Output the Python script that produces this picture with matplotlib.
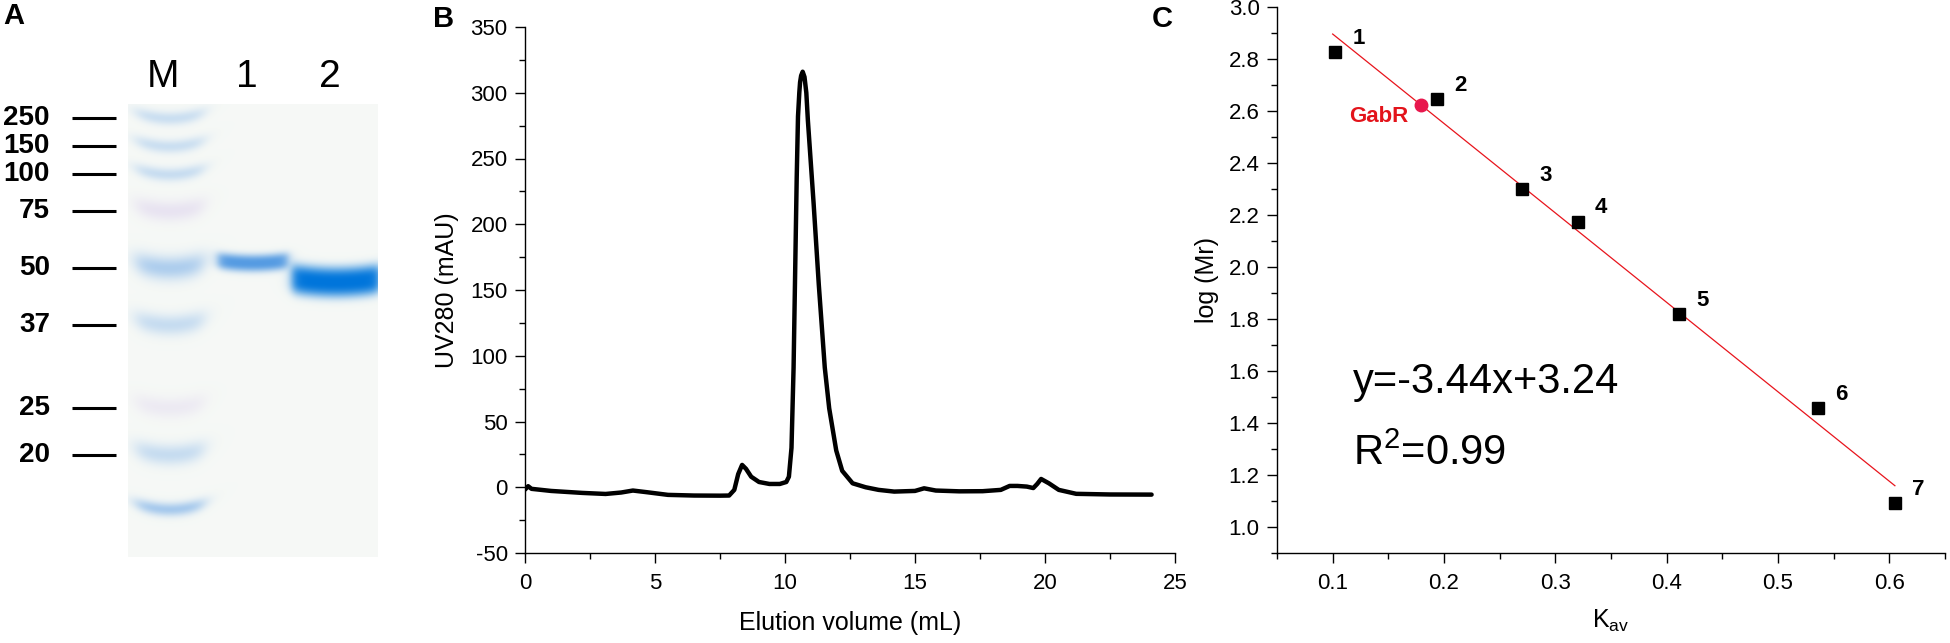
import numpy as np
import matplotlib
matplotlib.use("Agg")
import matplotlib.pyplot as plt
from matplotlib.ticker import MultipleLocator, FormatStrFormatter

plt.rcParams['font.family'] = ['Liberation Sans', 'DejaVu Sans']
plt.rcParams['axes.unicode_minus'] = False
plt.rcParams['mathtext.default'] = 'regular'

# --- A: SDS-PAGE gel ---
lanes = ['M', '1', '2']
marker_kda = [250, 150, 100, 75, 50, 37, 25, 20, 15]
marker_run = [3.1, 9.3, 15.5, 23.6, 36.2, 48.8, 67.1, 77.5, 89.6]  # % of gel length
marker_strength = [0.30, 0.30, 0.32, 0.22, 0.50, 0.33, 0.15, 0.33, 0.55]
marker_labels = ['250', '150', '100', '75', '50', '37', '25', '20']
sample_run = [35.1, 39.3]
sample_strength = [0.8, 1.0]

# --- B: gel filtration trace ---
volume = [0.0, 0.12, 0.25, 1.0, 2.2, 3.1, 3.7, 4.15, 4.7, 5.5, 6.5, 7.5, 7.85, 8.05,
          8.2, 8.35, 8.5, 8.7, 9.0, 9.4, 9.8, 10.05, 10.15, 10.25, 10.33, 10.40, 10.45,
          10.50, 10.55, 10.58, 10.62, 10.68, 10.75, 10.82, 10.88, 11.1, 11.3, 11.53,
          11.7, 11.97, 12.2, 12.6, 13.1, 13.6, 14.2, 15.0, 15.35, 15.8, 16.7, 17.6,
          18.3, 18.64, 18.94, 19.3, 19.55, 19.7, 19.85, 20.15, 20.53, 21.2, 22.5, 24.1]
uv280 = [-1.8, 0.8, -1.2, -2.8, -4.3, -5.1, -4.0, -2.5, -3.8, -5.8, -6.3, -6.4, -6.3, -2.0,
         10.0, 17.0, 14.0, 8.0, 4.0, 2.5, 2.5, 4.0, 8.0, 30.0, 91.0, 175.0, 235.0,
         282.0, 300.0, 308.0, 313.0, 316.0, 312.0, 300.0, 279.0, 216.0, 154.0, 91.0,
         60.0, 28.0, 12.5, 3.0, 0.0, -2.0, -3.3, -2.8, -0.8, -2.5, -3.1, -3.0,
         -2.0, 1.0, 1.0, 0.5, -0.6, 2.5, 6.3, 3.0, -2.0, -5.0, -5.5, -5.6]

# --- C: calibration ---
std_names = ['1', '2', '3', '4', '5', '6', '7']
kav = [0.102, 0.194, 0.270, 0.320, 0.411, 0.536, 0.605]
log_mr = [2.827, 2.646, 2.300, 2.175, 1.818, 1.458, 1.092]
gabr_kav = 0.179
gabr_log_mr = 2.625
fit_slope = -3.44
fit_icpt = 3.24
fit_kav = [0.1, 0.605]

W, H = 1950, 643
fig = plt.figure(figsize=(W / 100, H / 100), dpi=100)

# ---------------- panel A ----------------
axA = fig.add_axes([128 / W, (H - 557) / H, 250 / W, 453 / H])
xs = np.linspace(-0.5, 2.5, 250)
ys = np.linspace(0, 100, 453)
X, Y = np.meshgrid(xs, ys)
img = np.ones((453, 250, 3)) * np.array([0.965, 0.975, 0.965])


def add_band(img, xc, hw, yc, h, strength, color, smile=0.8, power=2.0, soft=0.035):
    across = 1 / (1 + np.exp((np.abs(X - xc) - hw) / soft))
    yy = yc - smile * ((X - xc) / hw) ** 2
    a = strength * across * np.exp(-np.abs((Y - yy) / h) ** power)
    a = a[..., None]
    return img * (1 - a) + np.array(color) * a


for kda, run, s in zip(marker_kda, marker_run, marker_strength):
    col = (0.72, 0.60, 0.88) if kda in (75, 25) else (0.40, 0.64, 0.90)
    h = 2.6 if kda == 50 else (2.3 if kda in (37, 20, 75, 25) else 1.5)
    img = add_band(img, 0.0, 0.40, run, h, s, col, smile=1.3, soft=0.06)

img = add_band(img, 1.0, 0.42, sample_run[0], 1.9, sample_strength[0],
               (0.18, 0.52, 0.87), smile=0.6, power=2.6)
img = add_band(img, 2.0, 0.53, sample_run[1], 3.3, sample_strength[1],
               (0.0, 0.46, 0.86), smile=0.8, power=3.0)

axA.imshow(img, extent=(-0.5, 2.5, 100, 0), aspect='auto', interpolation='bilinear')
axA.set_xlim(-0.5, 2.5)
axA.set_ylim(100, 0)
axA.axis('off')

for i, name in enumerate(lanes):
    axA.text(i - 0.08, -3.75, name, ha='center', va='baseline', fontsize=28, clip_on=False)

ytr = axA.get_yaxis_transform()
for lab, run in zip(marker_labels, marker_run):
    axA.plot([-0.224, -0.048], [run, run], transform=ytr, color='black', lw=2.2,
             clip_on=False, solid_capstyle='butt')
    axA.text(-0.312, run, lab, transform=ytr, ha='right', va='center',
             fontsize=20, fontweight='bold')

# ---------------- panel B ----------------
axB = fig.add_axes([525 / W, (H - 553) / H, 650 / W, 526 / H])
axB.plot(volume, uv280, color='black', lw=3.2, solid_joinstyle='round', solid_capstyle='round')
axB.set_xlim(0, 25)
axB.set_ylim(-50, 350)
axB.xaxis.set_major_locator(MultipleLocator(5))
axB.xaxis.set_minor_locator(MultipleLocator(2.5))
axB.yaxis.set_major_locator(MultipleLocator(50))
axB.yaxis.set_minor_locator(MultipleLocator(25))
axB.set_xlabel('Elution volume (mL)', fontsize=18, labelpad=12)
axB.set_ylabel('UV280 (mAU)', fontsize=18, labelpad=8)

# ---------------- panel C ----------------
axC = fig.add_axes([1277 / W, (H - 553) / H, 668 / W, 546 / H])
axC.plot(fit_kav, [fit_slope * k + fit_icpt for k in fit_kav], color='#e8141c', lw=0.9)
axC.plot(kav, log_mr, 's', color='black', ms=8.5, ls='none')
for name, k, m in zip(std_names, kav, log_mr):
    axC.annotate(name, (k, m), xytext=(17, 10), textcoords='offset points',
                 ha='center', va='center', fontsize=16, fontweight='bold')
axC.plot([gabr_kav], [gabr_log_mr], 'o', color='#e8174d', ms=9)
axC.annotate('GabR', (gabr_kav, gabr_log_mr), xytext=(-9, -9), textcoords='offset points',
             ha='right', va='center', fontsize=16, fontweight='bold', color='#e3141b')
axC.text(0.118, 1.515, 'y=-3.44x+3.24', fontsize=30, va='baseline', ha='left')
axC.text(0.118, 1.238, 'R$^2$=0.99', fontsize=30, va='baseline', ha='left')
axC.set_xlim(0.05, 0.65)
axC.set_ylim(0.9, 3.0)
axC.set_xticks([0.1, 0.2, 0.3, 0.4, 0.5, 0.6])
axC.xaxis.set_minor_locator(MultipleLocator(0.05))
axC.yaxis.set_major_locator(MultipleLocator(0.2))
axC.yaxis.set_minor_locator(MultipleLocator(0.1))
axC.xaxis.set_major_formatter(FormatStrFormatter('%.1f'))
axC.yaxis.set_major_formatter(FormatStrFormatter('%.1f'))
axC.set_xlabel('K$_{av}$', fontsize=18, labelpad=10)
axC.set_ylabel('log (Mr)', fontsize=18, labelpad=7)

for ax in (axB, axC):
    for side in ('top', 'right'):
        ax.spines[side].set_visible(False)
    for side in ('left', 'bottom'):
        ax.spines[side].set_linewidth(1.0)
    ax.tick_params(which='major', direction='out', length=7.5, width=1.0, labelsize=16, pad=5)
    ax.tick_params(which='minor', direction='out', length=4, width=1.0)
    ax.tick_params(axis='x', which='major', pad=7)

fig.text(3 / W, 1 - 2 / H, 'A', ha='left', va='top', fontsize=21, fontweight='bold')
fig.text(433 / W, 1 - 5 / H, 'B', ha='left', va='top', fontsize=21, fontweight='bold')
fig.text(1152 / W, 1 - 5 / H, 'C', ha='left', va='top', fontsize=21, fontweight='bold')

fig.savefig('out.png', dpi=100)
